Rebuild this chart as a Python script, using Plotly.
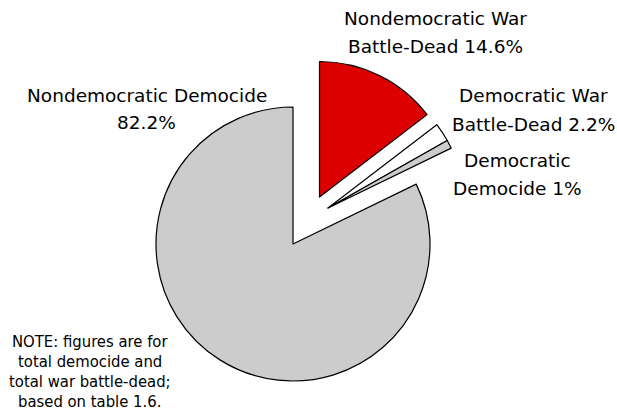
import plotly.graph_objects as go

# ---- data (clockwise from 12 o'clock) ----
categories = ["Nondemocratic War Battle-Dead", "Democratic War Battle-Dead",
              "Democratic Democide", "Nondemocratic Democide"]
shares = [14.6, 2.2, 1.0, 82.2]

label_lines = [
    ["Nondemocratic War", "Battle-Dead 14.6%"],
    ["Democratic War", "Battle-Dead 2.2%"],
    ["Democratic", "Democide 1%"],
    ["Nondemocratic Democide", "82.2%"],
]
note_lines = ["NOTE: figures are for", "total democide and",
              "total war battle-dead;", "based on table 1.6."]

# ---- styling / layout ----
W, H = 617, 418
slice_fill = ["#dd0000", "white", "white", "white"]
slice_pattern = ["", "", ".", "."]
# which slices each exploded group shows, with its centre and radius (px)
groups = [
    ([3], 293, 244, 137),
    ([0], 319.5, 197, 135.5),
    ([1, 2], 328, 208, 137),
]
label_pos = [  # centre x, y of each line
    (435, [19, 46]),
    (533, [96, 124]),
    (517, [160, 188]),
    (146.5, [95, 123]),
]
note_pos = (90, [341, 361, 381, 401])

clear = "rgba(0,0,0,0)"
fig = go.Figure()
for idx, cx, cy, r in groups:
    colors = [slice_fill[i] if i in idx else clear for i in range(len(shares))]
    shapes = [slice_pattern[i] if i in idx else "" for i in range(len(shares))]
    widths = [1.2 if i in idx else 0 for i in range(len(shares))]
    fig.add_trace(go.Pie(
        labels=categories, values=shares, sort=False,
        direction="clockwise", rotation=0,
        textinfo="none", hoverinfo="label+percent",
        marker=dict(colors=colors,
                    line=dict(color="black", width=widths),
                    pattern=dict(shape=shapes, fgcolor="black",
                                 bgcolor="white", size=2, solidity=0.45,
                                 fillmode="overlay")),
        domain=dict(x=[(cx - r) / W, (cx + r) / W],
                    y=[1 - (cy + r) / H, 1 - (cy - r) / H]),
        showlegend=False,
    ))

annotations = []
lab_font = dict(family="DejaVu Sans", size=18.5, color="black")
for lines, (x, ys) in zip(label_lines, label_pos):
    for t, y in zip(lines, ys):
        annotations.append(dict(text=t, x=x / W, y=1 - y / H, xref="paper",
                                yref="paper", xanchor="center",
                                yanchor="middle", showarrow=False,
                                font=lab_font))
note_font = dict(family="DejaVu Sans Condensed, Liberation Sans Narrow, DejaVu Sans",
                 size=16.5, color="black")
for t, y in zip(note_lines, note_pos[1]):
    annotations.append(dict(text=t, x=note_pos[0] / W, y=1 - y / H,
                            xref="paper", yref="paper", xanchor="center",
                            yanchor="middle", showarrow=False, font=note_font))

fig.update_layout(width=W, height=H, margin=dict(l=0, r=0, t=0, b=0),
                  paper_bgcolor="white", plot_bgcolor="white",
                  annotations=annotations)
fig.write_html("out.html", config={"displayModeBar": False},
               post_script="document.body.style.margin='0';"
                           "document.body.style.overflow='hidden';")
